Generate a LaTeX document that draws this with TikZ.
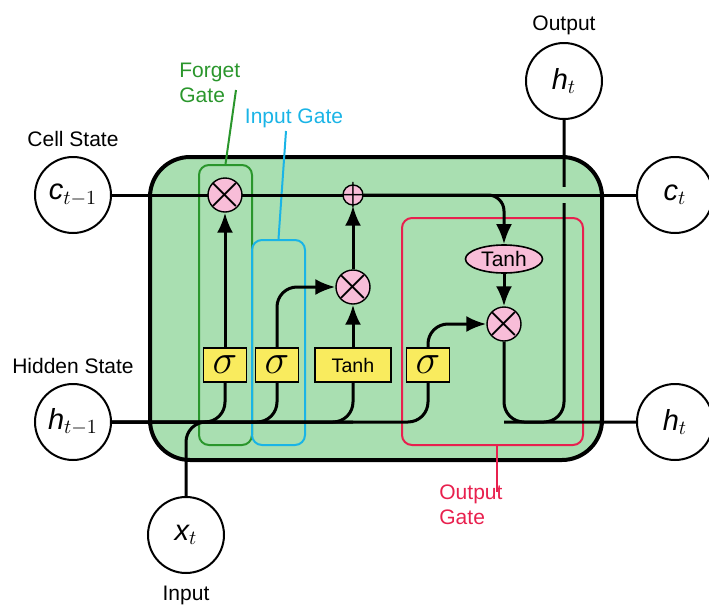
\documentclass[tikz,border=0pt]{standalone}
\usepackage{fontspec}
\setmainfont{Liberation Sans}
\usetikzlibrary{arrows.meta,positioning,shapes.geometric,calc}
\definecolor{lstmgreen}{HTML}{A9DFB1}
\definecolor{lstmyellow}{HTML}{F9EB5E}
\definecolor{lstmpink}{HTML}{F8BDD8}
\definecolor{forgetgreen}{HTML}{2A962C}
\definecolor{inputblue}{HTML}{1AB4E6}
\definecolor{outputred}{HTML}{E8204E}
\pgfdeclarelayer{bg}
\pgfdeclarelayer{wires}
\pgfsetlayers{bg,wires,main}

\begin{document}
\begin{tikzpicture}[x=0.5pt,y=-0.5pt,>={Latex[length=10pt,width=8pt]},
    state/.style={draw,circle,line width=1pt,minimum size=38pt,inner sep=0pt,fill=white,font=\fontsize{14.5}{16}\selectfont},
    lbl/.style={font=\fontsize{10.5}{12.5}\selectfont,inner sep=0pt},
    layerbox/.style={draw,fill=lstmyellow,line width=0.8pt,minimum height=17pt,inner sep=0pt},
    op/.style={draw,circle,fill=lstmpink,line width=0.7pt,inner sep=-4pt,minimum size=17pt},
    wire/.style={line width=1.5pt,rounded corners=10pt},
    gatebox/.style={draw,rounded corners=5pt,line width=1pt,inner sep=0pt}]
    \useasboundingbox (0,0) rectangle (709,606);

    % cell body and gate outlines
    \begin{pgfonlayer}{bg}
      \node[draw,fill=lstmgreen,line width=2pt,rounded corners=20pt,minimum width=226pt,minimum height=151.5pt] (cell) at (376,308.5) {};
      \node[gatebox,draw=forgetgreen,minimum width=26.5pt,minimum height=140pt] (fgate) at (225.5,305) {};
      \node[gatebox,draw=inputblue,minimum width=26.5pt,minimum height=102.5pt] (igate) at (278.5,342.5) {};
      \node[gatebox,draw=outputred,minimum width=90.5pt,minimum height=113.5pt] (ogate) at (492.5,331.5) {};
    \end{pgfonlayer}

    % inputs and outputs
    \node[state] (cprev) at (73,195) {\itshape c$_{t-1}$};
    \node[state] (hprev) at (73,422) {\itshape h$_{t-1}$};
    \node[state] (xin) at (186,535) {\itshape x$_{t}$};
    \node[state] (hout) at (564,81) {\itshape h$_{t}$};
    \node[state] (cnext) at (675,195) {\itshape c$_{t}$};
    \node[state] (hnext) at (675,422) {\itshape h$_{t}$};
    \node[lbl,above=4.5pt of cprev] (cslbl) {Cell State};
    \node[lbl,above=4.5pt of hprev] (hslbl) {Hidden State};
    \node[lbl,below=6pt of xin] (inlbl) {Input};
    \node[lbl,above=3.5pt of hout] (outlbl) {Output};

    % layers and pointwise ops
    \node[layerbox,minimum width=21.5pt] (sig1) at (225,365) {\fontsize{20}{20}\selectfont$\sigma$};
    \node[layerbox,minimum width=21.5pt] (sig2) at (277,365) {\fontsize{20}{20}\selectfont$\sigma$};
    \node[layerbox,minimum width=38pt,font=\fontsize{9.8}{11}\selectfont] (tanhb) at (353,365) {Tanh};
    \node[layerbox,minimum width=21.5pt] (sig3) at (428,365) {\fontsize{20}{20}\selectfont$\sigma$};
    \node[op] (mulf) at (225,195) {\fontsize{26}{26}\selectfont$\times$};
    \node[op,minimum size=10pt,inner sep=-5.5pt] (plus) at (353,195) {\fontsize{20}{20}\selectfont$+$};
    \node[op] (muli) at (353,287) {\fontsize{26}{26}\selectfont$\times$};
    \node[op] (mulo) at (504,324) {\fontsize{26}{26}\selectfont$\times$};
    \node[ellipse,draw,fill=lstmpink,line width=0.8pt,minimum width=38.5pt,minimum height=14pt,inner sep=0pt,font=\fontsize{10.5}{11}\selectfont] (tanhc) at (504,259) {Tanh};

    % gate labels
    \node[lbl,text=forgetgreen,align=left,anchor=west] (fglbl) at (179,83) {Forget\\Gate};
    \node[lbl,text=inputblue] (iglbl) at (294,118) {Input Gate};
    \node[lbl,text=outputred,align=left,anchor=west] (oglbl) at (439,505) {Output\\Gate};
    \coordinate (fgtip) at (236,90);
    \coordinate (igtip) at (286,131);
    \coordinate (ogtip) at (497,492);
    \begin{pgfonlayer}{bg}
      \draw[forgetgreen,line width=1pt] (fgtip) -- (fgate.north);
      \draw[inputblue,line width=1pt] (igtip) -- (igate.north);
      \draw[outputred,line width=1pt] (ogate.south -| ogtip) -- (ogtip);
    \end{pgfonlayer}

    % connections
    \begin{pgfonlayer}{wires}
      \draw[wire] (hprev) -| (sig3);
      \draw[wire] (sig1) |- (hprev);
      \draw[wire] (sig2) |- (hprev);
      \draw[wire] (tanhb) |- (hprev);
      \draw[wire] (xin) |- (hprev -| tanhb);
      \draw[wire,->] (sig1) -- (mulf);
      \draw[wire,->] (sig2) |- (muli);
      \draw[wire,->] (tanhb) -- (muli);
      \draw[wire,->] (muli) -- (plus);
      \draw[wire,->] (sig3) |- (mulo);
      \draw[wire,->,rounded corners=8pt] (plus) -| (tanhc);
      \draw[wire,->] (tanhc) -- (mulo);
      \draw[wire] (mulo) |- (hnext);
      \draw[wire] (hout) |- (mulo |- hnext);
      \draw[lstmgreen,line width=8pt] ($(hout |- cnext)+(-2pt,0)$) -- ($(hout |- cnext)+(2pt,0)$);
      \draw[wire] (cprev) -- (cnext);
    \end{pgfonlayer}
\end{tikzpicture}
\end{document}
